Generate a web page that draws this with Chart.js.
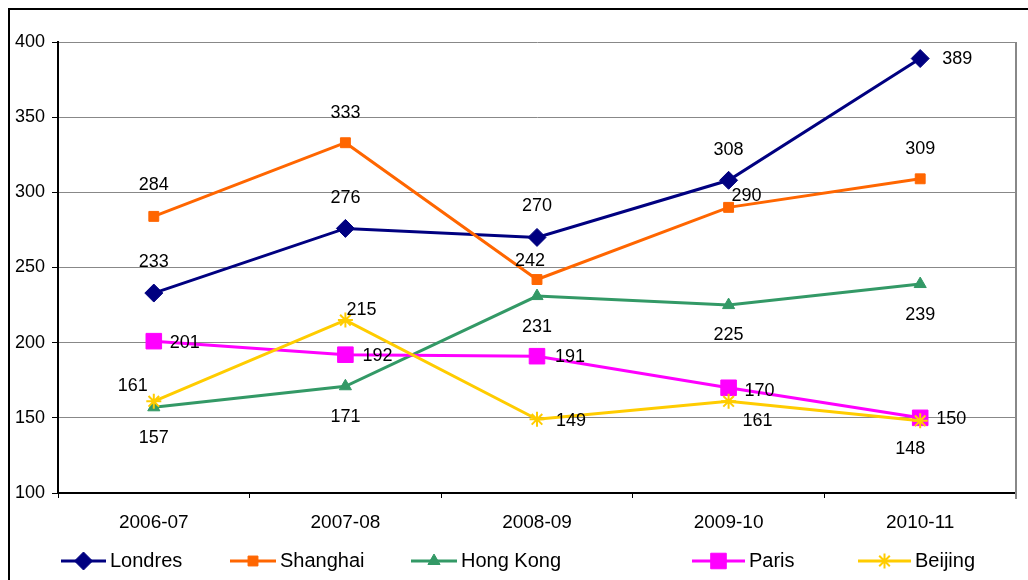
<!DOCTYPE html>
<html>
<head>
<meta charset="utf-8">
<script src="https://cdn.jsdelivr.net/npm/chart.js@4/dist/chart.umd.min.js"></script>
<style>
  html, body { margin: 0; padding: 0; background: #fff; overflow: hidden; }
  #wrap { position: relative; width: 1028px; height: 580px; overflow: hidden; }
  #frame { position: absolute; left: 8px; top: 8px; width: 1200px; height: 800px;
           border-left: 2px solid #000; border-top: 2px solid #000; }
  #c { position: absolute; left: 0; top: 0; }
</style>
</head>
<body>
<div id="wrap">
  <div id="frame"></div>
  <canvas id="c" width="1028" height="580"></canvas>
</div>
<script>
// Seasons on the category axis
const seasons = ['2006-07', '2007-08', '2008-09', '2009-10', '2010-11'];

// Values per city
const londres  = [233, 276, 270, 308, 389];
const shanghai = [284, 333, 242, 290, 309];
const hongKong = [157, 171, 231, 225, 239];
const paris    = [201, 192, 191, 170, 150];
const beijing  = [161, 215, 149, 161, 148];

// Value axis range and tick step
const yMin = 100, yMax = 400, yStep = 50;

const FONT = "'Liberation Sans', Arial, Helvetica, sans-serif";

// Value label placement (pixel offsets of the label centre from its point)
const labelOffsets = [
  [[0, -31], [0, -30], [0, -31], [0, -30], [37, 0]],
  [[0, -31], [0, -30], [-7, -18], [18, -11], [0, -30]],
  [[0, 31], [0, 31], [0, 31], [0, 30], [0, 31]],
  [[31, 2], [32, 1], [33, 1], [31, 3], [31, 1]],
  [[-21, -15], [16, -10], [34, 2], [29, 20], [-10, 28]]
];

// Legend entry placement: [line start, line end]
const legendSlots = [[61, 106], [230, 276], [411, 457], [692, 745], [858, 911]];
const legendY = 561;

function series(label, data, color, style, radius, order) {
  return {
    label, data,
    borderColor: color,
    backgroundColor: color,
    borderWidth: 3,
    pointStyle: style,
    pointRadius: radius,
    pointHoverRadius: radius,
    pointBackgroundColor: color,
    pointBorderColor: color,
    pointBorderWidth: style === 'star' ? 2 : 1,
    tension: 0,
    order
  };
}

const datasets = [
  series('Londres',   londres,  '#000080', 'rectRot',  9,   4),
  series('Shanghai',  shanghai, '#FF6600', 'rect',     7,   3),
  series('Hong Kong', hongKong, '#339966', 'triangle', 7,   2),
  series('Paris',     paris,    '#FF00FF', 'rect',     11,  1),
  series('Beijing',   beijing,  '#FFCC00', 'star',     7.5, 0)
];

// Right edge of the plot frame
const plotFrame = {
  id: 'plotFrame',
  beforeDatasetsDraw(chart) {
    const a = chart.chartArea, ctx = chart.ctx;
    ctx.save();
    ctx.strokeStyle = '#888';
    ctx.lineWidth = 2;
    ctx.beginPath();
    ctx.moveTo(a.right, a.top);
    ctx.lineTo(a.right, a.bottom + 6);
    ctx.stroke();
    ctx.restore();
  }
};

function drawMarker(ctx, ds, x, y) {
  const opts = {
    pointStyle: ds.pointStyle,
    radius: ds.pointRadius,
    rotation: 0,
    borderWidth: ds.pointBorderWidth
  };
  ctx.fillStyle = ds.pointBackgroundColor;
  ctx.strokeStyle = ds.pointBorderColor;
  ctx.lineWidth = ds.pointBorderWidth;
  Chart.helpers.drawPoint(ctx, opts, x, y);
}

// Values written next to each point
const valueLabels = {
  id: 'valueLabels',
  afterDatasetsDraw(chart) {
    const ctx = chart.ctx;
    ctx.save();
    ctx.font = '18px ' + FONT;
    ctx.fillStyle = '#000';
    ctx.textAlign = 'center';
    ctx.textBaseline = 'middle';
    chart.data.datasets.forEach((ds, i) => {
      const meta = chart.getDatasetMeta(i);
      meta.data.forEach((pt, j) => {
        const off = labelOffsets[i][j];
        ctx.fillText(String(ds.data[j]), pt.x + off[0], pt.y + off[1]);
      });
    });
    ctx.restore();
  }
};

// Line-and-marker legend along the bottom
const lineLegend = {
  id: 'lineLegend',
  afterDraw(chart) {
    const ctx = chart.ctx;
    ctx.save();
    chart.data.datasets.forEach((ds, i) => {
      const [x1, x2] = legendSlots[i];
      ctx.strokeStyle = ds.borderColor;
      ctx.lineWidth = 3;
      ctx.beginPath();
      ctx.moveTo(x1, legendY);
      ctx.lineTo(x2, legendY);
      ctx.stroke();
      drawMarker(ctx, ds, (x1 + x2) / 2, legendY);
      ctx.font = '20px ' + FONT;
      ctx.fillStyle = '#000';
      ctx.textAlign = 'left';
      ctx.textBaseline = 'middle';
      ctx.fillText(ds.label, x2 + 4, legendY);
    });
    ctx.restore();
  }
};

new Chart(document.getElementById('c'), {
  type: 'line',
  data: { labels: seasons, datasets },
  plugins: [plotFrame, valueLabels, lineLegend],
  options: {
    responsive: false,
    animation: false,
    events: [],
    layout: { padding: { left: 0, right: 11, top: 42, bottom: 47 } },
    plugins: { legend: { display: false }, tooltip: { enabled: false } },
    scales: {
      x: {
        offset: true,
        afterFit(scale) { scale.height = 40; },
        grid: { drawOnChartArea: false, drawTicks: true, tickLength: 5, tickColor: '#000', offset: true, lineWidth: 1 },
        border: { color: '#000', width: 2 },
        ticks: { color: '#000', font: { family: FONT, size: 19 }, padding: 13, maxRotation: 0 }
      },
      y: {
        min: yMin, max: yMax,
        afterFit(scale) { scale.width = 58; },
        grid: { color: '#888', lineWidth: 1, tickColor: '#000', tickLength: 6 },
        border: { color: '#000', width: 2 },
        ticks: { stepSize: yStep, color: '#000', font: { family: FONT, size: 18 }, padding: 7 }
      }
    }
  }
});
</script>
</body>
</html>
